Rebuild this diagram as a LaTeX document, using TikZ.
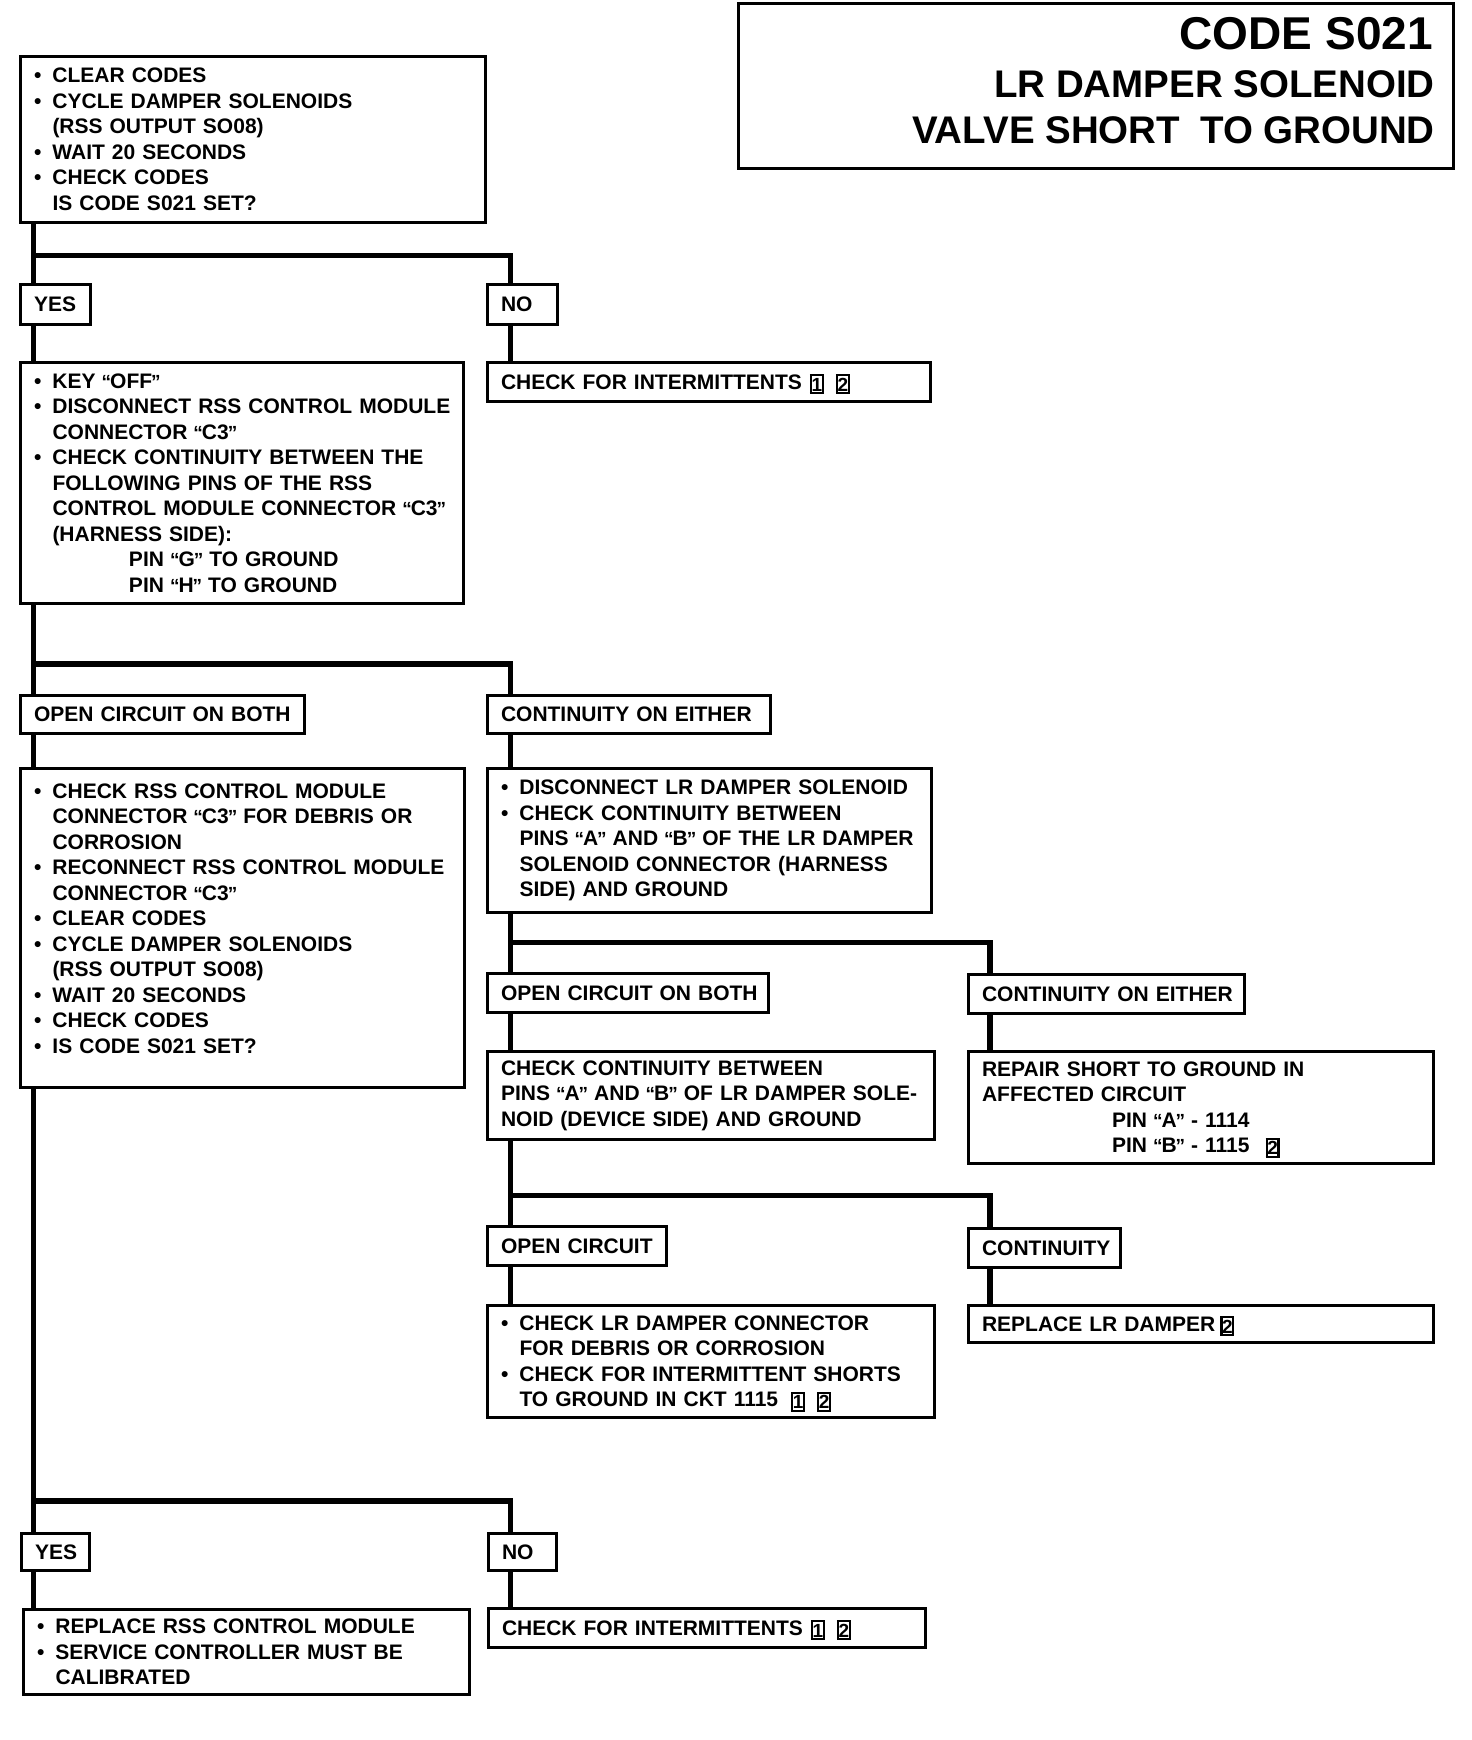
\documentclass[tikz,border=0pt]{standalone}
\usepackage{fontspec}
\setmainfont{Liberation Sans}
\newcommand{\bodyfont}{\fontsize{21pt}{25.5pt}\selectfont\bfseries}
\newcommand{\myb}{\makebox[18.5pt][l]{\textbullet}}
\newcommand{\myi}{\hspace*{18.5pt}}
\newcommand{\ml}[1]{\mbox{#1}}
\newcommand{\oq}{\makebox[7.5pt][c]{\fontsize{19pt}{19pt}\selectfont “}}
\newcommand{\cq}{\makebox[7.5pt][c]{\fontsize{19pt}{19pt}\selectfont ”}}
\newcommand{\bnum}[1]{\raisebox{-3pt}[0pt][0pt]{\setlength{\fboxsep}{0pt}\setlength{\fboxrule}{2.2pt}\fbox{\makebox[9.6pt]{\rule{0pt}{16.1pt}\raisebox{1.2pt}{\fontsize{19pt}{19pt}\selectfont #1}}}}}
\begin{document}
\begin{tikzpicture}[x=1pt,y=-1pt,
  box/.style={draw, line width=3pt, anchor=north west, inner xsep=13.5pt, inner ysep=2pt, align=left, font=\bodyfont},
  conn/.style={line width=5.5pt}]
\fill[white] (0,0) rectangle (1472,1740);
\useasboundingbox (0,0) rectangle (1472,1740);

% title
\node[draw, line width=3pt, anchor=north west, minimum width=715pt, minimum height=165pt, inner sep=0pt] (title) at (737,2) {};
\node[anchor=base east, inner sep=0pt, font=\fontsize{46pt}{46pt}\selectfont\bfseries] (t1) at (1433,49) {CODE S021};
\node[anchor=base east, inner sep=0pt, font=\fontsize{38.5pt}{38.5pt}\selectfont\bfseries] (t2) at (1435,97) {LR DAMPER SOLENOID};
\node[anchor=base east, inner sep=0pt, font=\fontsize{38.5pt}{38.5pt}\selectfont\bfseries] (t3) at (1435,143) {VALVE SHORT\hspace{20pt}TO GROUND};

% boxes
\node[box, text width=438pt, minimum height=166pt] (b1) at (19,55) {\ml{\myb CLEAR CODES}\\ \ml{\myb CYCLE DAMPER SOLENOIDS}\\ \ml{\myi (RSS OUTPUT SO08)}\\ \ml{\myb WAIT 20 SECONDS}\\ \ml{\myb CHECK CODES}\\ \ml{\myi IS CODE S021 SET?}};
\node[box, text width=43pt, minimum height=40pt] (yes1) at (19,283) {YES};
\node[box, text width=43pt, minimum height=40pt] (no1) at (486,283) {NO};
\node[box, text width=416pt, minimum height=241pt] (b2) at (19,361) {\ml{\myb KEY \oq OFF\cq}\\ \ml{\myb DISCONNECT RSS CONTROL MODULE}\\ \ml{\myi CONNECTOR \oq C3\cq}\\ \ml{\myb CHECK CONTINUITY BETWEEN THE}\\ \ml{\myi FOLLOWING PINS OF THE RSS}\\ \ml{\myi CONTROL MODULE CONNECTOR \oq C3\cq}\\ \ml{\myi (HARNESS SIDE):}\\ \ml{\hspace*{95pt}PIN \oq G\cq{} TO GROUND}\\ \ml{\hspace*{95pt}PIN \oq H\cq{} TO GROUND}};
\node[box, text width=416pt, minimum height=39pt] (cfi1) at (486,361) {\ml{CHECK FOR INTERMITTENTS\hspace{8pt}\bnum{1}\hspace{12pt}\bnum{2}}};
\node[box, text width=257pt, minimum height=38pt] (oc1) at (19,694) {\ml{OPEN CIRCUIT ON BOTH}};
\node[box, text width=256pt, minimum height=38pt] (ce1) at (486,694) {\ml{CONTINUITY ON EITHER}};
\node[box, text width=417pt, minimum height=319pt] (b3) at (19,767) {\ml{\myb CHECK RSS CONTROL MODULE}\\ \ml{\myi CONNECTOR \oq C3\cq{} FOR DEBRIS OR}\\ \ml{\myi CORROSION}\\ \ml{\myb RECONNECT RSS CONTROL MODULE}\\ \ml{\myi CONNECTOR \oq C3\cq}\\ \ml{\myb CLEAR CODES}\\ \ml{\myb CYCLE DAMPER SOLENOIDS}\\ \ml{\myi (RSS OUTPUT SO08)}\\ \ml{\myb WAIT 20 SECONDS}\\ \ml{\myb CHECK CODES}\\ \ml{\myb IS CODE S021 SET?\rule[-19.5pt]{0pt}{0pt}}};
\node[box, text width=417pt, minimum height=144pt] (b4) at (486,767) {\ml{\myb DISCONNECT LR DAMPER SOLENOID}\\ \ml{\myb CHECK CONTINUITY BETWEEN}\\ \ml{\myi PINS \oq A\cq{} AND \oq B\cq{} OF THE LR DAMPER}\\ \ml{\myi SOLENOID CONNECTOR (HARNESS}\\ \ml{\myi SIDE) AND GROUND}};
\node[box, text width=254pt, minimum height=39pt] (oc2) at (486,972) {\ml{OPEN CIRCUIT ON BOTH}};
\node[box, text width=249pt, minimum height=39pt] (ce2) at (967,973) {\ml{CONTINUITY ON EITHER}};
\node[box, text width=420pt, minimum height=88pt] (b5) at (486,1050) {\ml{CHECK CONTINUITY BETWEEN}\\ \ml{PINS \oq A\cq{} AND \oq B\cq{} OF LR DAMPER SOLE-}\\ \ml{NOID (DEVICE SIDE) AND GROUND}};
\node[box, text width=438pt, minimum height=112pt] (b6) at (967,1050) {\ml{REPAIR SHORT TO GROUND IN}\\ \ml{AFFECTED CIRCUIT}\\ \ml{\hspace*{130pt}PIN \oq A\cq{} - 1114}\\ \ml{\hspace*{130pt}PIN \oq B\cq{} - 1115\hspace{16pt}\bnum{2}}};
\node[box, text width=152pt, minimum height=39pt] (oc3) at (486,1225) {\ml{OPEN CIRCUIT}};
\node[box, text width=125pt, minimum height=39pt] (ct) at (967,1227) {\ml{CONTINUITY}};
\node[box, text width=420pt, minimum height=112pt] (b7) at (486,1304) {\ml{\myb CHECK LR DAMPER CONNECTOR}\\ \ml{\myi FOR DEBRIS OR CORROSION}\\ \ml{\myb CHECK FOR INTERMITTENT SHORTS}\\ \ml{\myi TO GROUND IN CKT 1115\hspace{13pt}\bnum{1}\hspace{12pt}\bnum{2}}};
\node[box, text width=438pt, minimum height=37pt] (b8) at (967,1304) {\ml{REPLACE LR DAMPER\hspace{5pt}\bnum{2}}};
\node[box, text width=41pt, minimum height=37pt] (yes2) at (20,1532) {YES};
\node[box, text width=41pt, minimum height=37pt] (no2) at (487,1532) {NO};
\node[box, text width=419pt, minimum height=85pt] (b9) at (22,1608) {\ml{\myb REPLACE RSS CONTROL MODULE}\\ \ml{\myb SERVICE CONTROLLER MUST BE}\\ \ml{\myi CALIBRATED}};
\node[box, text width=410pt, minimum height=39pt] (b10) at (487,1607) {\ml{CHECK FOR INTERMITTENTS\hspace{8pt}\bnum{1}\hspace{12pt}\bnum{2}}};

% column and junction coordinates
\coordinate (cL) at (33.5,0);
\coordinate (cR) at (510.5,0);
\coordinate (cRR) at (990,0);
\coordinate (j1) at (33.5,255.5);
\coordinate (j2) at (33.5,664);
\coordinate (j3) at (510.5,942.5);
\coordinate (j4) at (510.5,1195.5);
\coordinate (j5) at (33.5,1501);

% connectors
\draw[conn] (b1.south -| cL) -- (yes1.north -| cL);
\draw[conn] (j1) -| (no1.north -| cR);
\draw[conn] (yes1.south -| cL) -- (b2.north -| cL);
\draw[conn] (no1.south -| cR) -- (cfi1.north -| cR);
\draw[conn] (b2.south -| cL) -- (oc1.north -| cL);
\draw[conn] (j2) -| (ce1.north -| cR);
\draw[conn] (oc1.south -| cL) -- (b3.north -| cL);
\draw[conn] (ce1.south -| cR) -- (b4.north -| cR);
\draw[conn] (b4.south -| cR) -- (oc2.north -| cR);
\draw[conn] (j3) -| (ce2.north -| cRR);
\draw[conn] (oc2.south -| cR) -- (b5.north -| cR);
\draw[conn] (ce2.south -| cRR) -- (b6.north -| cRR);
\draw[conn] (b5.south -| cR) -- (oc3.north -| cR);
\draw[conn] (j4) -| (ct.north -| cRR);
\draw[conn] (oc3.south -| cR) -- (b7.north -| cR);
\draw[conn] (ct.south -| cRR) -- (b8.north -| cRR);
\draw[conn] (b3.south -| cL) -- (yes2.north -| cL);
\draw[conn] (j5) -| (no2.north -| cR);
\draw[conn] (yes2.south -| cL) -- (b9.north -| cL);
\draw[conn] (no2.south -| cR) -- (b10.north -| cR);
\end{tikzpicture}
\end{document}
